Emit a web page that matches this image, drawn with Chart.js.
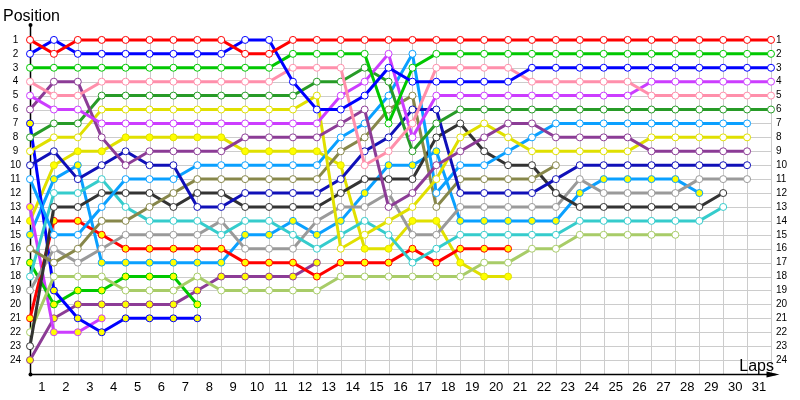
<!DOCTYPE html>
<html>
<head>
<meta charset="utf-8">
<script src="https://cdn.jsdelivr.net/npm/chart.js@4"></script>
<style>
  html, body { margin: 0; padding: 0; background: #ffffff; }
  canvas { display: block; }
</style>
</head>
<body>
<canvas id="lapChart" width="800" height="400"></canvas>
<script>
// laps 0..31 (0 = grid)
const laps = [0, 1, 2, 3, 4, 5, 6, 7, 8, 9, 10, 11, 12, 13, 14, 15, 16, 17, 18, 19, 20, 21, 22, 23, 24, 25, 26, 27, 28, 29, 30, 31];
const positions = [1, 2, 3, 4, 5, 6, 7, 8, 9, 10, 11, 12, 13, 14, 15, 16, 17, 18, 19, 20, 21, 22, 23, 24];
const lapLabels = ["1", "2", "3", "4", "5", "6", "7", "8", "9", "10", "11", "12", "13", "14", "15", "16",
  "17", "18", "19", "20", "21", "22", "23", "24", "25", "26", "27", "28", "29", "30", "31"];

// position per lap, one array per car (null = no longer classified)
const red1 = [1, 2, 1, 1, 1, 1, 1, 1, 1, 2, 2, 1, 1, 1, 1, 1, 1, 1, 1, 1, 1, 1, 1, 1, 1, 1, 1, 1, 1, 1, 1, 1];
const blue1 = [2, 1, 2, 2, 2, 2, 2, 2, 2, 1, 1, 4, 6, 6, 5, 3, 4, 4, 4, 4, 4, 3, 3, 3, 3, 3, 3, 3, 3, 3, 3, 3];
const green1 = [3, 3, 3, 3, 3, 3, 3, 3, 3, 3, 3, 2, 2, 2, 2, 7, 3, 2, 2, 2, 2, 2, 2, 2, 2, 2, 2, 2, 2, 2, 2, 2];
const pink1 = [4, 5, 5, 4, 4, 4, 4, 4, 4, 4, 4, 3, 3, 3, 10, 9, 7, 3, 3, 3, 3, 4, 4, 4, 4, 4, 5, 5, 5, 5, 5, 5];
const violet1 = [5, 6, 6, 7, 7, 7, 7, 7, 7, 7, 7, 7, 7, 5, 4, 2, 8, 5, 5, 5, 5, 5, 5, 5, 5, 5, 4, 4, 4, 4, 4, 4];
const purple1 = [6, 4, 4, 8, 10, 9, 9, 9, 9, 8, 8, 8, 8, 7, 6, 13, 12, 10, 9, 8, 7, 7, 8, 8, 8, 8, 9, 9, 9, 9, 9, null];
const darkGreen1 = [8, 7, 7, 5, 5, 5, 5, 5, 5, 5, 5, 5, 4, 4, 3, 4, 9, 7, 6, 6, 6, 6, 6, 6, 6, 6, 6, 6, 6, 6, 6, 6];
const yellow1 = [9, 8, 8, 6, 6, 6, 6, 6, 6, 6, 6, 6, 5, 16, 15, 14, 13, 11, 8, 7, 8, 9, 9, 9, 9, 9, 8, 8, 8, 8, 8, null];
const navy1 = [10, 9, 11, 10, 9, 10, 10, 13, 13, 12, 12, 12, 12, 11, 9, 8, 6, 6, 12, 12, 12, 12, 11, 10, 10, 10, 10, 10, 10, 10, 10, null];
const skyBlue1 = [11, 15, 15, 13, 11, 11, 11, 10, 10, 10, 10, 10, 10, 8, 7, 5, 2, 12, 10, 10, 9, 8, 7, 7, 7, 7, 7, 7, 7, 7, 7, null];
const olive1 = [16, 17, 16, 14, 14, 13, 12, 11, 11, 11, 11, 11, 11, 9, 8, 6, 5, 13, 11, 11, 11, 11, 10, null, null, null, null, null, null, null, null, null];
const darkGray1 = [23, 13, 13, 12, 12, 12, 13, 12, 12, 13, 13, 13, 13, 12, 11, 11, 11, 8, 7, 9, 10, 10, 12, 13, 13, 13, 13, 13, 13, 12, null, null];
const teal1 = [18, 12, 12, 11, 13, 14, 14, 14, 15, 14, 14, 15, 16, 15, 14, 15, 17, 16, 15, 15, 15, 15, 15, 14, 14, 14, 14, 14, 14, 13, null, null];
const gray1 = [19, 16, 17, 16, 15, 15, 15, 15, 14, 16, 16, 16, 14, 13, 13, 12, 15, 15, 13, 13, 13, 13, 13, 11, 12, 12, 12, 12, 11, 11, 11, null];
const lightGreen1 = [22, 18, 18, 18, 19, 19, 19, 18, 19, 19, 19, 19, 19, 18, 18, 18, 18, 18, 18, 17, 17, 16, 16, 15, 15, 15, 15, 15, null, null, null, null];
const red2 = [21, 14, 14, 15, 16, 16, 16, 16, 16, 17, 17, 17, 18, 17, 17, 17, 16, 17, 16, 16, 16];
const blue2 = [7, 19, 21, 22, 21, 21, 21, 21];
const green2 = [17, 20, 19, 19, 18, 18, 18, 20];
const violet2 = [13, 22, 22, 21];
const purple2 = [24, 21, 20, 20, 20, 20, 20, 19, 18, 18, 18, 18, 17];
const yellow2 = [14, 10, 9, 9, 8, 8, 8, 8, 8, 9, 9, 9, 9, 10, 16, 16, 14, 14, 17, 18, 18];
const skyBlue2 = [15, 11, 10, 17, 17, 17, 17, 17, 17, 15, 15, 14, 15, 14, 12, 10, 10, 9, 14, 14, 14, 14, 14, 12, 11, 11, 11, 11, 12];

// 線色與是否為套圈車 (黃色點)
const cars = [
  { pos: red1, color: "#ff0000", lapped: false },
  { pos: blue1, color: "#0000ff", lapped: false },
  { pos: green1, color: "#00c800", lapped: false },
  { pos: pink1, color: "#ff8fab", lapped: false },
  { pos: violet1, color: "#cc3dff", lapped: false },
  { pos: purple1, color: "#8c3c96", lapped: false },
  { pos: darkGreen1, color: "#279b27", lapped: false },
  { pos: yellow1, color: "#e0e000", lapped: false },
  { pos: navy1, color: "#1010b8", lapped: false },
  { pos: skyBlue1, color: "#0aa0ff", lapped: false },
  { pos: olive1, color: "#87874a", lapped: false },
  { pos: darkGray1, color: "#333333", lapped: false },
  { pos: teal1, color: "#35cccc", lapped: false },
  { pos: gray1, color: "#9a9a9a", lapped: false },
  { pos: lightGreen1, color: "#a8cc68", lapped: false },
  { pos: red2, color: "#ff0000", lapped: true },
  { pos: blue2, color: "#0000ff", lapped: true },
  { pos: green2, color: "#00c800", lapped: true },
  { pos: violet2, color: "#cc3dff", lapped: true },
  { pos: purple2, color: "#8c3c96", lapped: true },
  { pos: yellow2, color: "#e0e000", lapped: true },
  { pos: skyBlue2, color: "#0aa0ff", lapped: true },
];

const datasets = cars.map((c) => ({
  data: c.pos
    .map((p, i) => ({ x: laps[i], y: p }))
    .filter((d) => d.y !== null && d.y !== undefined),
  borderColor: c.color,
  borderWidth: 3,
  pointRadius: 3.5,
  pointBorderWidth: 1,
  pointBorderColor: c.color,
  pointBackgroundColor: c.lapped ? "#ffff00" : "#ffffff",
  tension: 0,
  clip: false,
}));

// 網格與箭頭座標軸
const lapAxesPlugin = {
  id: "lapAxesPlugin",
  beforeDatasetsDraw: (chart) => {
    const ctx = chart.ctx;
    const x = chart.scales.x;
    const y = chart.scales.y;
    const px = (v) => Math.round(x.getPixelForValue(v)) + 0.5;
    const py = (v) => Math.round(y.getPixelForValue(v)) + 0.5;
    const x0 = px(laps[0]);
    const x1 = px(laps[laps.length - 1]);
    const yTop = py(positions[0]);
    const yBottom = py(positions.length + 1);

    ctx.save();
    ctx.strokeStyle = "#cccccc";
    ctx.lineWidth = 1;
    positions.forEach((p) => {
      ctx.beginPath();
      ctx.moveTo(x0, py(p));
      ctx.lineTo(x1, py(p));
      ctx.stroke();
    });
    laps.slice(1).forEach((l) => {
      ctx.beginPath();
      ctx.moveTo(px(l), yTop);
      ctx.lineTo(px(l), yBottom);
      ctx.stroke();
    });

    // 座標軸
    ctx.strokeStyle = "#000000";
    ctx.fillStyle = "#000000";
    ctx.lineWidth = 1.5;
    ctx.beginPath();
    ctx.moveTo(x0, yBottom);
    ctx.lineTo(x0, 25);
    ctx.stroke();
    ctx.beginPath();
    ctx.moveTo(x0, yBottom);
    ctx.lineTo(x1 + 4, yBottom);
    ctx.stroke();
    // 箭頭
    ctx.beginPath();
    ctx.moveTo(x1 + 8, yBottom);
    ctx.lineTo(x1 - 5, yBottom - 3);
    ctx.lineTo(x1 - 5, yBottom + 3);
    ctx.closePath();
    ctx.fill();
    ctx.beginPath();
    ctx.arc(x0, 25, 2, 0, Math.PI * 2);
    ctx.fill();
    ctx.beginPath();
    ctx.arc(x0, yBottom, 2, 0, Math.PI * 2);
    ctx.fill();
    ctx.restore();
  },
  afterDraw: (chart) => {
    const ctx = chart.ctx;
    ctx.save();
    ctx.fillStyle = "#000000";
    ctx.font = "16px 'Liberation Sans', Arial, sans-serif";
    ctx.textBaseline = "alphabetic";
    ctx.textAlign = "left";
    ctx.fillText("Position", 3, 21);
    ctx.textAlign = "right";
    ctx.fillText("Laps", 774, 371);
    ctx.restore();
  },
};

const yAxis = (side, width, pad) => ({
  type: "linear",
  position: side,
  reverse: true,
  min: 0,
  max: positions.length + 1,
  grid: { display: false, drawTicks: false },
  border: { display: false },
  ticks: {
    stepSize: 1,
    autoSkip: false,
    padding: pad,
    crossAlign: side === "left" ? "center" : "near",
    color: "#000000",
    font: { family: "'Liberation Sans', Arial, sans-serif", size: 10 },
    callback: (v) => (positions.includes(v) ? String(v) : ""),
  },
  afterFit: (scale) => {
    scale.width = width;
  },
});

const chart = new Chart(document.getElementById("lapChart"), {
  type: "line",
  data: { datasets: datasets },
  plugins: [lapAxesPlugin],
  options: {
    responsive: false,
    animation: false,
    events: [],
    layout: { padding: { top: 26, left: 0, right: 0, bottom: 0 } },
    plugins: {
      legend: { display: false },
      tooltip: { enabled: false },
    },
    scales: {
      x: {
        type: "linear",
        position: "bottom",
        min: laps[0],
        max: laps[laps.length - 1],
        grid: { display: false, drawTicks: false },
        border: { display: false },
        afterBuildTicks: (scale) => {
          // 圈數標籤放在兩點之間
          scale.ticks = laps.slice(1).map((l) => ({ value: l - 0.5 }));
        },
        ticks: {
          autoSkip: false,
          maxRotation: 0,
          padding: 6,
          color: "#000000",
          font: { family: "'Liberation Sans', Arial, sans-serif", size: 13 },
          callback: (v, i) => lapLabels[i],
        },
        afterFit: (scale) => {
          scale.height = 26;
        },
      },
      y: yAxis("left", 30, 9),
      y2: yAxis("right", 29, 5),
    },
  },
});
</script>
</body>
</html>
